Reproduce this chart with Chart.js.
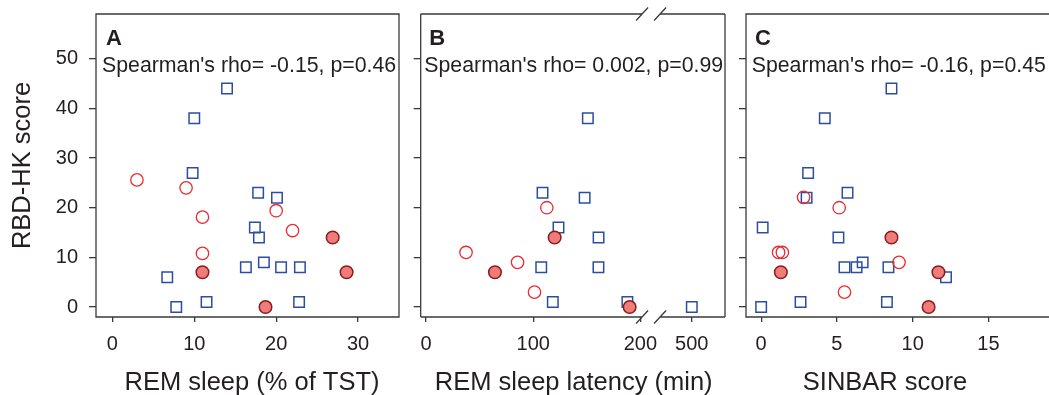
<!DOCTYPE html>
<html>
<head>
<meta charset="utf-8">
<script src="https://cdn.jsdelivr.net/npm/chart.js@4.4.1/dist/chart.umd.min.js"></script>
<style>
  html, body { margin: 0; padding: 0; background: #fff; overflow: hidden; }
  body { width: 1049px; height: 395px; position: relative; }
  canvas { position: absolute; top: 0; }
</style>
</head>
<body>
<canvas id="panelA" width="410" height="395" style="left:0px"></canvas>
<canvas id="panelB" width="325" height="395" style="left:410px"></canvas>
<canvas id="panelC" width="340" height="395" style="left:735px"></canvas>
<script>
// RBD-HK score (y) against three measures; [x, y] pairs per group
// blue squares / red open circles / red filled circles
const remPctSquares = [[14, 44], [10, 38], [9.8, 27], [17.8, 23], [20.1, 22], [17.4, 16], [17.9, 14], [6.7, 6],
  [16.3, 8], [18.5, 9], [20.6, 8], [22.9, 8], [7.8, 0], [11.5, 1], [22.8, 1]];
const remPctOpen = [[3, 25.6], [9, 24], [11, 18.1], [20, 19.4], [22, 15.4], [11, 10.8]];
const remPctFilled = [[11, 7], [26.9, 14], [28.6, 7], [18.7, 0]];

const latencySquares = [[151, 38], [108.7, 23], [148, 22], [123.6, 16], [161, 14], [107.5, 8], [160.9, 8],
  [118.3, 1], [187.9, 1], [500, 0]];
const latencyOpen = [[37.3, 11], [112.7, 20], [85.4, 9], [101.2, 3]];
const latencyFilled = [[64.3, 7], [120, 14], [190, 0]];

const sinbarSquares = [[8.6, 44], [4.2, 38], [3.1, 27], [3, 22], [5.7, 23], [0.1, 16], [5.1, 14], [5.5, 8],
  [6.3, 8], [6.7, 9], [8.4, 8], [12.2, 6], [0, 0], [2.6, 1], [8.3, 1]];
const sinbarOpen = [[2.8, 22.1], [5.15, 20], [1.15, 11], [1.4, 11], [9.1, 9], [5.5, 3]];
const sinbarFilled = [[1.3, 7], [8.6, 14], [11.7, 7], [11.05, 0]];

const yTicks = [0, 10, 20, 30, 40, 50];
const remPctTicks = [0, 10, 20, 30];
const latencyTicks = [0, 100, 200, 500];
const sinbarTicks = [0, 5, 10, 15];

const yTitle = 'RBD-HK score';
const xTitles = ['REM sleep (% of TST)', 'REM sleep latency (min)', 'SINBAR score'];
const letters = ['A', 'B', 'C'];
const notes = ["Spearman's rho= -0.15, p=0.46", "Spearman's rho= 0.002, p=0.99", "Spearman's rho= -0.16, p=0.45"];

// latency axis is broken between 200 and 500
const breakX = v => (v > 200 ? v - 500 + 248 : v);

const FONT = "'Liberation Sans', Arial, sans-serif";
const INK = '#231f20';
const AXIS = '#3a3a3a';
const H = 395, AREA_BOTTOM = 317;

Chart.defaults.font.family = FONT;
Chart.defaults.color = INK;

const framePlugin = {
  id: 'panelFrame',
  afterDraw(chart, args, o) {
    const { ctx, chartArea: a } = chart;
    ctx.save();
    ctx.strokeStyle = AXIS;
    ctx.lineWidth = 1.3;
    ctx.beginPath();
    if (o.breakAt != null) {
      const bx = chart.scales.x.getPixelForValue(o.breakAt);
      for (const y of [a.top, a.bottom]) {
        ctx.moveTo(a.left, y); ctx.lineTo(bx - 9, y);
        ctx.moveTo(bx + 9, y); ctx.lineTo(a.right, y);
        for (const c of [bx - 9, bx + 9]) {
          ctx.moveTo(c - 6, y + 6.5); ctx.lineTo(c + 6, y - 6.5);
        }
      }
      ctx.moveTo(a.left, a.top); ctx.lineTo(a.left, a.bottom);
      ctx.moveTo(a.right, a.top); ctx.lineTo(a.right, a.bottom);
    } else {
      ctx.rect(a.left, a.top, a.right - a.left, a.bottom - a.top);
    }
    ctx.stroke();

    ctx.fillStyle = INK;
    ctx.textAlign = 'left';
    ctx.textBaseline = 'alphabetic';
    ctx.font = 'bold 22px ' + FONT;
    ctx.fillText(o.letter, a.left + o.letterDx, a.top + 31);
    ctx.font = '21.3px ' + FONT;
    ctx.fillText(o.note, a.left + o.noteDx, a.top + 58);

    // x axis title
    ctx.textAlign = 'center';
    ctx.textBaseline = 'middle';
    ctx.font = '25.5px ' + FONT;
    ctx.fillText(o.xTitle, a.left + o.titleDx, 383);
    ctx.restore();
  }
};

function makePanel(id, cfg) {
  const toPts = arr => arr.map(([x, y]) => ({ x: cfg.mapX(x), y: y }));
  new Chart(document.getElementById(id), {
    type: 'scatter',
    data: {
      datasets: [
        {
          data: toPts(cfg.filled), pointStyle: 'circle', pointRadius: 6.3,
          backgroundColor: '#ef7b7b', borderColor: '#8c1c1c', borderWidth: 1.5
        },
        {
          data: toPts(cfg.open), pointStyle: 'circle', pointRadius: 6.2,
          backgroundColor: 'rgba(0,0,0,0)', borderColor: '#ec2a2f', borderWidth: 1.3
        },
        {
          data: toPts(cfg.squares), pointStyle: 'rect', pointRadius: 7.4,
          backgroundColor: 'rgba(0,0,0,0)', borderColor: '#2b4da3', borderWidth: 1.5
        }
      ]
    },
    options: {
      responsive: false,
      animation: false,
      events: [],
      layout: { padding: { top: 14, right: cfg.padRight, left: 0, bottom: 0 } },
      plugins: {
        legend: { display: false },
        tooltip: { enabled: false },
        panelFrame: {
          letter: cfg.letter, note: cfg.note, xTitle: cfg.xTitle,
          letterDx: cfg.letterDx, noteDx: cfg.noteDx, titleDx: cfg.titleDx, breakAt: cfg.breakAt
        }
      },
      scales: {
        x: {
          type: 'linear', min: cfg.xMin, max: cfg.xMax,
          afterBuildTicks: s => { s.ticks = cfg.xTicks.map(v => ({ value: cfg.mapX(v) })); },
          afterFit: s => { s.height = H - AREA_BOTTOM; s.paddingLeft = 0; s.paddingRight = 0; },
          grid: { drawOnChartArea: false, drawTicks: true, tickLength: 5, color: AXIS, lineWidth: 1.3 },
          border: { display: false },
          ticks: {
            font: { size: 20 }, padding: 10, maxRotation: 0, autoSkip: false,
            callback: (v, i) => String(cfg.xTicks[i])
          }
        },
        y: {
          type: 'linear', min: -2, max: 59,
          afterBuildTicks: s => { s.ticks = yTicks.map(v => ({ value: v })); },
          afterFit: s => { s.width = cfg.yWidth; s.paddingTop = 0; s.paddingBottom = 0; },
          grid: { drawOnChartArea: false, drawTicks: true, tickLength: 7, color: AXIS, lineWidth: 1.3 },
          border: { display: false },
          ticks: { display: cfg.showY, font: { size: 20 }, padding: 11 },
          title: {
            display: cfg.showY, text: yTitle,
            font: { size: 25.5, lineHeight: 1 }, padding: { top: 10, bottom: 0 }
          }
        }
      }
    },
    plugins: [framePlugin]
  });
}

const same = v => v;

makePanel('panelA', {
  squares: remPctSquares, open: remPctOpen, filled: remPctFilled,
  xTicks: remPctTicks, mapX: same, xMin: -2, xMax: 35,
  yWidth: 96, padRight: 11, showY: true,
  letter: letters[0], note: notes[0], xTitle: xTitles[0],
  letterDx: 10, noteDx: 6, titleDx: 156
});

makePanel('panelB', {
  squares: latencySquares, open: latencyOpen, filled: latencyFilled,
  xTicks: latencyTicks, mapX: breakX, xMin: -5, xMax: 279,
  yWidth: 10.7, padRight: 10, showY: false, breakAt: 210,
  letter: letters[1], note: notes[1], xTitle: xTitles[1],
  letterDx: 8.5, noteDx: 3.6, titleDx: 153
});

makePanel('panelC', {
  squares: sinbarSquares, open: sinbarOpen, filled: sinbarFilled,
  xTicks: sinbarTicks, mapX: same, xMin: -1, xMax: 20,
  yWidth: 11, padRight: 10.8, showY: false,
  letter: letters[2], note: notes[2], xTitle: xTitles[2],
  letterDx: 9, noteDx: 5.7, titleDx: 139
});
</script>
</body>
</html>
